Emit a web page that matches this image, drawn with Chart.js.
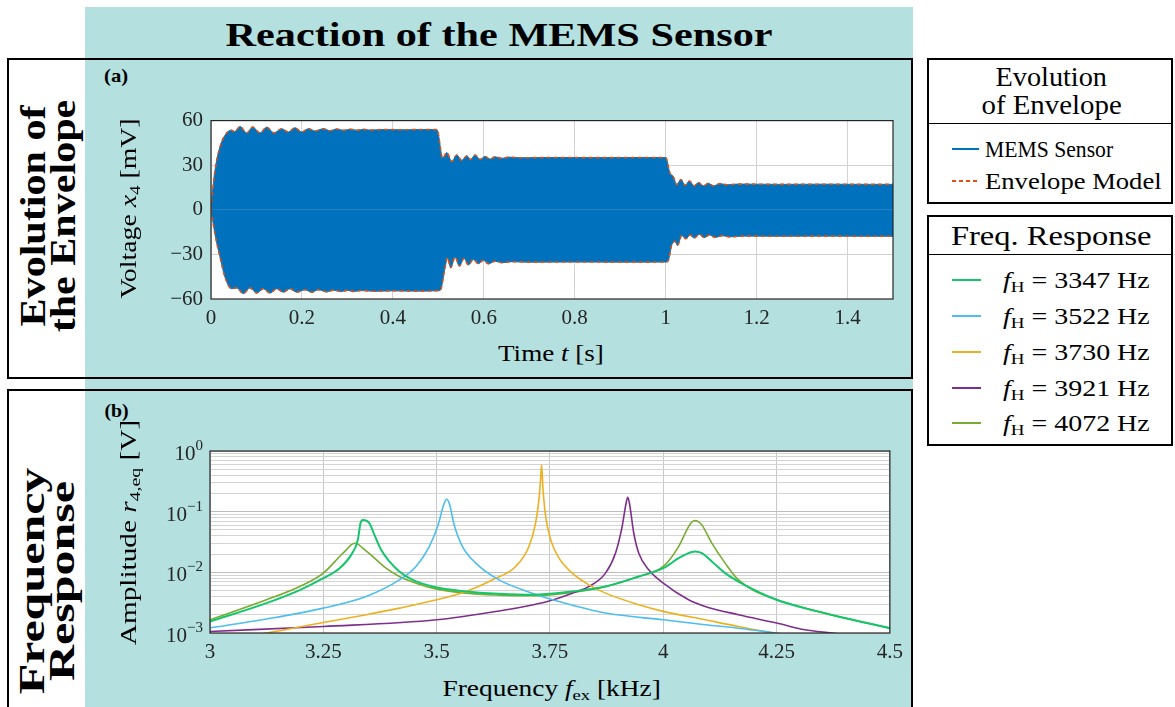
<!DOCTYPE html>
<html>
<head>
<meta charset="utf-8">
<script src="https://cdn.jsdelivr.net/npm/chart.js@4.4.1/dist/chart.umd.min.js"></script>
<style>
  body { margin:0; width:1175px; height:707px; background:#fff; position:relative; overflow:hidden;
         font-family:"Liberation Serif", serif; color:#000; }
  #teal { position:absolute; left:85px; top:7px; width:828px; height:700px; background:#b4e0e0; }
  .box { position:absolute; border:2px solid #000; box-sizing:border-box; }
  .rule { position:absolute; height:0; border-top:1.5px solid #000; }
  .t { position:absolute; white-space:nowrap; line-height:1; }
  .b { font-weight:bold; }
  .t sub { font-size:0.68em; vertical-align:-0.25em; line-height:0; font-style:normal; }
  .sw { position:absolute; height:2px; }
  canvas { position:absolute; }
</style>
</head>
<body>
<div id="teal"></div>

<div class="t b" style="font-size:34px" data-cx="499" data-cy="35" data-w="547">Reaction of the MEMS Sensor</div>

<!-- panel frames -->
<div class="box" style="left:7px;top:58px;width:906px;height:321px"></div>
<div class="box" style="left:7px;top:389px;width:906px;height:340px"></div>

<div class="t b" style="font-size:35px;line-height:30px;text-align:center" data-cx="48" data-cy="216" data-w="232" data-rot="1">Evolution of<br>the Envelope</div>
<div class="t b" style="font-size:35px;line-height:30px;text-align:center" data-cx="48" data-cy="581" data-w="227" data-rot="1">Frequency<br>Response</div>

<div class="t b" style="font-size:19px" data-cx="116" data-cy="75" data-w="24">(a)</div>
<div class="t b" style="font-size:19px" data-cx="116" data-cy="410" data-w="24">(b)</div>

<canvas id="envChart" width="770" height="240" style="left:140px;top:100px"></canvas>
<canvas id="freqChart" width="770" height="245" style="left:140px;top:430px"></canvas>

<div class="t" style="font-size:23px" data-cx="551" data-cy="353" data-w="106">Time <i>t</i> [s]</div>
<div class="t" style="font-size:23px" data-cx="128" data-cy="208" data-w="180" data-rot="1">Voltage <i>x</i><sub>4</sub> [mV]</div>
<div class="t" style="font-size:23px" data-cx="551" data-cy="688" data-w="218">Frequency <i>f</i><sub>ex</sub> [kHz]</div>
<div class="t" style="font-size:23px" data-cx="128" data-cy="532" data-w="225" data-rot="1">Amplitude <i>r</i><sub>4,eq</sub> [V]</div>

<!-- legend: envelope -->
<div class="box" style="left:927px;top:58px;width:246px;height:146px"></div>
<div class="rule" style="left:927px;top:123px;width:246px"></div>
<div class="t" style="font-size:27px" data-cx="1051" data-cy="77" data-w="112">Evolution</div>
<div class="t" style="font-size:27px" data-cx="1051" data-cy="105" data-w="140">of Envelope</div>
<div class="sw" style="left:952px;top:148px;width:27px;background:#0072bd"></div>
<div class="t" style="font-size:23px" data-x="985" data-cy="149" data-w="128">MEMS Sensor</div>
<div class="sw" style="left:952px;top:180px;width:27px;background:repeating-linear-gradient(90deg,#d95319 0 4px,transparent 4px 7px)"></div>
<div class="t" style="font-size:23px" data-x="985" data-cy="181" data-w="177">Envelope Model</div>

<!-- legend: frequency response -->
<div class="box" style="left:927px;top:215px;width:246px;height:231px"></div>
<div class="rule" style="left:927px;top:254px;width:246px"></div>
<div class="t" style="font-size:27px" data-cx="1051" data-cy="236" data-w="200">Freq. Response</div>
<div id="freqLegend"></div>

<script>
// ---- (a) envelope of the MEMS sensor response ----
const timeTicks = [0, 0.2, 0.4, 0.6, 0.8, 1, 1.2, 1.4];
const voltTicks = [-60, -30, 0, 30, 60];

const envTimeUpper = [0, 0.004, 0.009, 0.02, 0.0345, 0.045, 0.052, 0.0638, 0.0785, 0.0917, 0.1078, 0.1225, 0.1386,
  0.1555, 0.170, 0.1848, 0.1995, 0.214, 0.2288, 0.247, 0.262, 0.277, 0.292, 0.306, 0.321, 0.336, 0.35, 0.38, 0.42,
  0.46, 0.497, 0.5097, 0.5185, 0.5295, 0.5405, 0.5515, 0.5625, 0.571, 0.5808, 0.5918, 0.6028, 0.6138, 0.625, 0.64,
  0.655, 0.68, 0.75, 0.85, 0.95, 1.0, 1.0098, 1.016, 1.0245, 1.0333, 1.0428, 1.0523, 1.0626, 1.072, 1.083, 1.094,
  1.105, 1.12, 1.135, 1.16, 1.25, 1.35, 1.45, 1.5];
const envUpper = [0, 14, 27, 42.6, 51.7, 53.5, 52.5, 56.0, 51.7, 55.6, 51.7, 55.6, 51.7,
  54.5, 52.3, 55.2, 52.3, 54.5, 53.0, 54.5, 53.2, 54.3, 53.4, 54.2, 53.5, 54.1, 53.6, 54.0, 53.8,
  54.0, 53.9, 34.7, 38.5, 32.5, 36.9, 33.2, 36.3, 33.9, 36.9, 33.9, 35.9, 34.1, 35.6, 34.6,
  35.4, 35.0, 35.2, 35.1, 35.2, 35.1, 24.4, 22.8, 16.9, 20.4, 16.5, 19.4, 16.1, 18.3, 16.1, 17.8,
  16.1, 17.6, 16.8, 17.3, 17.1, 17.2, 17.1, 17.1];

const envTimeLower = [0, 0.009, 0.02, 0.031, 0.0455, 0.0565, 0.0711, 0.0858, 0.1005, 0.1151, 0.1298, 0.1445,
  0.1591, 0.1738, 0.1885, 0.2068, 0.2215, 0.236, 0.2545, 0.27, 0.285, 0.30, 0.315, 0.33, 0.36, 0.40, 0.45, 0.5038,
  0.5148, 0.52, 0.5273, 0.5368, 0.5463, 0.5566, 0.566, 0.577, 0.588, 0.599, 0.61, 0.625, 0.64, 0.66, 0.7, 0.8, 0.9,
  1.002, 1.006, 1.0135, 1.0208, 1.026, 1.0355, 1.0443, 1.054, 1.0626, 1.0743, 1.0846, 1.0963, 1.1088, 1.125, 1.14,
  1.17, 1.25, 1.35, 1.45, 1.5];
const envLower = [0, -16.7, -32, -45.5, -53.1, -52.5, -56.4, -52.5, -56, -53.1, -56, -53.1,
  -55.4, -53.1, -55.4, -53.8, -55.4, -53.8, -55.2, -54.0, -55.0, -54.2, -54.9, -54.3, -54.8, -54.5, -54.7, -54.3,
  -38.9, -32.3, -38.9, -31.8, -37.8, -32.7, -37.1, -33.4, -36.3, -34.0, -36.3, -34.6, -35.6, -34.9, -35.2, -35.1, -35.2,
  -35.1, -34.0, -23.5, -21.3, -23.9, -17.3, -19.5, -16.9, -19.0, -16.5, -18.7, -16.9, -18.5, -17.4, -18.2,
  -17.7, -17.8, -17.7, -17.8, -17.8];

// ---- (b) frequency responses r_4,eq(f_ex) [V], f in kHz ----
const freqTicks = [3, 3.25, 3.5, 3.75, 4, 4.25, 4.5];
const ampDecades = [1e-3, 1e-2, 1e-1, 1];

const f3347 = [3.0, 3.1246, 3.198, 3.25, 3.286, 3.3115, 3.3262, 3.332, 3.3372, 3.3445, 3.3518, 3.3628, 3.3775,
  3.3958, 3.4178, 3.4471, 3.4911, 3.5644, 3.6377, 3.711, 3.7993, 3.8726, 3.946, 4.0, 4.0339, 4.0559, 4.0632, 4.0705,
  4.078, 4.0852, 4.1072, 4.1365, 4.1658, 4.25, 4.3124, 4.3857, 4.5];
const a3347 = [0.00155, 0.00311, 0.0051, 0.0080, 0.0117, 0.0194, 0.0343, 0.0645, 0.0731, 0.0713, 0.0645, 0.0414, 0.0235,
  0.0151, 0.0103, 0.0075, 0.00584, 0.00484, 0.00443, 0.00426, 0.00484, 0.00584, 0.00854, 0.0117, 0.0171, 0.0207, 0.0216, 0.0220,
  0.0216, 0.0207, 0.0151, 0.0097, 0.00706, 0.00353, 0.00257, 0.001875, 0.0012];

const f3522 = [3.0, 3.1246, 3.25, 3.3445, 3.4178, 3.4545, 3.4838, 3.5021, 3.5168, 3.522, 3.5278, 3.5388, 3.5571,
  3.5864, 3.6377, 3.711, 3.7697, 3.8726, 4.0, 4.0925, 4.1658, 4.2391, 4.4];
const a3522 = [0.00121, 0.0017, 0.00257, 0.0040, 0.0075, 0.0125, 0.0266, 0.0568, 0.1376, 0.160, 0.1376, 0.0605, 0.0266,
  0.0142, 0.0075, 0.00454, 0.00331, 0.00213, 0.00165, 0.00137, 0.0012, 0.00102, 0.0007];

const f3730 = [3.0, 3.1246, 3.25, 3.3445, 3.4178, 3.5, 3.5644, 3.623, 3.6744, 3.7037, 3.7183, 3.7257, 3.7293, 3.7315,
  3.7348, 3.7407, 3.7517, 3.768, 3.7993, 3.836, 3.8726, 3.946, 4.0, 4.0925, 4.1658, 4.2391, 4.35];
const a3730 = [0.00078, 0.001, 0.00149, 0.0020, 0.00257, 0.00353, 0.00484, 0.0075, 0.0125, 0.0266, 0.0645, 0.156, 0.333, 0.588,
  0.228, 0.083, 0.0343, 0.0182, 0.0097, 0.00622, 0.00454, 0.00292, 0.00227, 0.00165, 0.00128, 0.00102, 0.0008];

const f3921 = [3.0, 3.25, 3.5, 3.6377, 3.711, 3.75, 3.7993, 3.836, 3.8726, 3.8946, 3.9093, 3.918, 3.9217, 3.9254,
  3.935, 3.946, 3.968, 4.0, 4.0559, 4.0925, 4.1658, 4.25, 4.3124, 4.371, 4.45];
const a3921 = [0.00106, 0.00128, 0.00165, 0.0023, 0.0029, 0.0034, 0.00454, 0.00584, 0.0097, 0.0207, 0.0568, 0.1376, 0.1727, 0.1376,
  0.0441, 0.0207, 0.0110, 0.00663, 0.00353, 0.00274, 0.0020, 0.00146, 0.00113, 0.001, 0.00085];

const f4072 = [3.0, 3.1246, 3.198, 3.25, 3.286, 3.3042, 3.3115, 3.3189, 3.3262, 3.3372, 3.3592, 3.3885, 3.4178, 3.4545,
  3.4911, 3.5644, 3.6377, 3.711, 3.7993, 3.8726, 3.946, 4.0, 4.0339, 4.0559, 4.0632, 4.0705, 4.078, 4.0852, 4.1072,
  4.1365, 4.1658, 4.25, 4.3124, 4.3857, 4.5];
const a4072 = [0.00165, 0.00353, 0.00584, 0.0097, 0.0182, 0.025, 0.0284, 0.0302, 0.0292, 0.025, 0.0182, 0.0117, 0.00854, 0.00663,
  0.00549, 0.00454, 0.00421, 0.0041, 0.00466, 0.00584, 0.00854, 0.0125, 0.0266, 0.0568, 0.0675, 0.0713, 0.068, 0.0605, 0.0302,
  0.0142, 0.0075, 0.00353, 0.00257, 0.001875, 0.0012];

const respLabels = ['3347', '3522', '3730', '3921', '4072'];
const respColors = ['#13c66c', '#4dbeee', '#edb120', '#7e2f8e', '#77ac30'];
const respFreqs = [f3347, f3522, f3730, f3921, f4072];
const respAmps = [a3347, a3522, a3730, a3921, a4072];

// legend rows for (b)
const legRows = [280, 316, 352, 388, 423];
let legHtml = '';
respLabels.forEach((lab, i) => {
  legHtml += '<div class="sw" style="left:952px;top:' + (legRows[i] - 1) + 'px;width:29px;background:' + respColors[i] + '"></div>';
  legHtml += '<div class="t" style="font-size:23px" data-x="1003" data-cy="' + legRows[i] + '" data-w="147"><i>f</i><sub>H</sub> = ' + lab + ' Hz</div>';
});
document.getElementById('freqLegend').innerHTML = legHtml;

// place text: centre (or left edge) and fit to the width measured in the picture
document.querySelectorAll('.t').forEach(el => {
  const d = el.dataset;
  const w = el.offsetWidth, h = el.offsetHeight;
  const s = d.w ? (+d.w / w) : 1;
  const cx = d.x !== undefined ? (+d.x + (+d.w) / 2) : +d.cx;
  el.style.left = (cx - w / 2) + 'px';
  el.style.top = (+d.cy - h / 2) + 'px';
  el.style.transform = (d.rot ? 'rotate(-90deg) ' : '') + 'scaleX(' + s + ')';
});

const tickFont = { family: '"Liberation Serif"', size: 21 };
const axisCol = '#262626';

// white plot background and dark frame, like the original axes box
const plotFrame = {
  id: 'plotFrame',
  beforeDraw(chart) {
    const a = chart.chartArea, ctx = chart.ctx;
    ctx.save();
    ctx.fillStyle = '#fff';
    ctx.fillRect(a.left, a.top, a.right - a.left, a.bottom - a.top);
    ctx.restore();
  },
  afterDatasetsDraw(chart) {
    const a = chart.chartArea, ctx = chart.ctx;
    ctx.save();
    ctx.strokeStyle = axisCol;
    ctx.lineWidth = 1.2;
    ctx.strokeRect(a.left, a.top, a.right - a.left, a.bottom - a.top);
    ctx.restore();
  }
};

function pts(xs, ys) { return xs.map((x, i) => ({ x: x, y: ys[i] })); }

// ---- chart (a) ----
new Chart(document.getElementById('envChart'), {
  type: 'line',
  data: {
    datasets: [
      { label: 'Envelope Model', data: pts(envTimeUpper, envUpper), borderColor: '#d95319', borderWidth: 1.6,
        borderDash: [4, 3], pointRadius: 0, fill: false, cubicInterpolationMode: 'monotone', order: 0 },
      { label: 'Envelope Model lower', data: pts(envTimeLower, envLower), borderColor: '#d95319', borderWidth: 1.6,
        borderDash: [4, 3], pointRadius: 0, fill: false, cubicInterpolationMode: 'monotone', order: 0 },
      { label: 'MEMS Sensor', data: pts(envTimeUpper, envUpper), borderColor: '#0072bd', backgroundColor: '#0072bd',
        borderWidth: 1, pointRadius: 0, fill: 'origin', cubicInterpolationMode: 'monotone', order: 1 },
      { label: 'MEMS Sensor lower', data: pts(envTimeLower, envLower), borderColor: '#0072bd', backgroundColor: '#0072bd',
        borderWidth: 1, pointRadius: 0, fill: 'origin', cubicInterpolationMode: 'monotone', order: 1 }
    ]
  },
  options: {
    responsive: false, animation: false, devicePixelRatio: 1, events: [],
    layout: { padding: { top: 17, right: 17, left: 0, bottom: 0 } },
    plugins: { legend: { display: false }, tooltip: { enabled: false } },
    scales: {
      x: {
        type: 'linear', min: 0, max: 1.5,
        afterBuildTicks: s => { s.ticks = timeTicks.map(v => ({ value: v })); },
        afterFit: s => { s.height = 41; },
        grid: { color: '#d2d2d2', drawTicks: false },
        border: { display: false },
        ticks: { color: axisCol, font: tickFont, padding: 7, maxRotation: 0, callback: v => String(v) }
      },
      y: {
        type: 'linear', min: -60, max: 60,
        afterBuildTicks: s => { s.ticks = voltTicks.map(v => ({ value: v })); },
        afterFit: s => { s.width = 71; },
        grid: { color: '#d2d2d2', drawTicks: false },
        border: { display: false },
        ticks: { color: axisCol, font: tickFont, padding: 8, callback: v => (v < 0 ? '\u2212' + Math.abs(v) : String(v)) }
      }
    }
  },
  plugins: [plotFrame]
});

// ---- chart (b) ----
const decadeLabels = {
  id: 'decadeLabels',
  afterDraw(chart) {
    const y = chart.scales.y, ctx = chart.ctx;
    ctx.save();
    ctx.fillStyle = axisCol;
    ctx.textAlign = 'right';
    ctx.textBaseline = 'alphabetic';
    ampDecades.forEach(v => {
      const py = y.getPixelForValue(v);
      const e = Math.round(Math.log10(v));
      const exp = e < 0 ? '\u2212' + Math.abs(e) : String(e);
      const right = y.right - 7;
      ctx.font = '15px "Liberation Serif"';
      const ew = ctx.measureText(exp).width;
      ctx.fillText(exp, right, py - 1);
      ctx.font = '21px "Liberation Serif"';
      ctx.fillText('10', right - ew, py + 9);
    });
    ctx.restore();
  }
};

function isDecade(v) { return Math.abs(Math.log10(v) - Math.round(Math.log10(v))) < 1e-9; }

new Chart(document.getElementById('freqChart'), {
  type: 'line',
  data: {
    datasets: respLabels.map((lab, i) => ({
      label: 'f_H = ' + lab + ' Hz',
      data: pts(respFreqs[i], respAmps[i]),
      borderColor: respColors[i],
      borderWidth: i === 0 ? 2 : 1.6,
      pointRadius: 0, fill: false,
      cubicInterpolationMode: 'monotone',
      order: i === 0 ? 0 : i + 1
    }))
  },
  options: {
    responsive: false, animation: false, devicePixelRatio: 1, events: [],
    layout: { padding: { top: 21, right: 18, left: 0, bottom: 0 } },
    plugins: { legend: { display: false }, tooltip: { enabled: false } },
    scales: {
      x: {
        type: 'linear', min: 3, max: 4.5,
        afterBuildTicks: s => { s.ticks = freqTicks.map(v => ({ value: v })); },
        afterFit: s => { s.height = 42; },
        grid: { color: '#c8c8c8', drawTicks: false },
        border: { display: false },
        ticks: { color: axisCol, font: tickFont, padding: 7, maxRotation: 0, callback: v => String(v) }
      },
      y: {
        type: 'logarithmic', min: 1e-3, max: 1,
        afterBuildTicks: s => {
          const t = [];
          ampDecades.slice(0, -1).forEach(d => { for (let k = 1; k <= 9; k++) t.push({ value: k * d }); });
          t.push({ value: 1 });
          s.ticks = t;
        },
        afterFit: s => { s.width = 70; },
        grid: { color: c => (c.tick && isDecade(c.tick.value) ? '#bdbdbd' : '#d4d4d4'), drawTicks: false },
        border: { display: false },
        ticks: { display: false }
      }
    }
  },
  plugins: [plotFrame, decadeLabels]
});
</script>
</body>
</html>
